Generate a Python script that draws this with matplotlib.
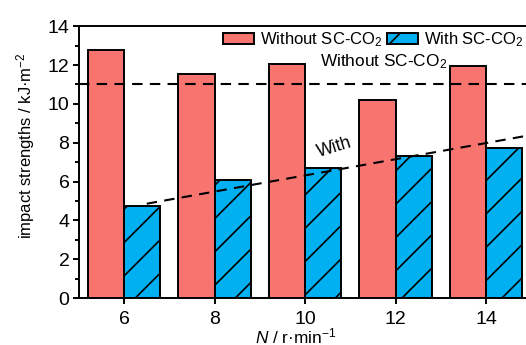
import matplotlib
matplotlib.use("Agg")
import matplotlib.pyplot as plt
import numpy as np

# impact strength vs. rotor speed
speeds = [6, 8, 10, 12, 14]
without_co2 = [12.78, 11.55, 12.03, 10.22, 11.94]
with_co2 = [4.75, 6.09, 6.71, 7.34, 7.75]

# guide lines
without_level = 11.0
with_trend_x = [6.5, 15.0]
with_trend_y = [4.86, 8.40]

plt.rcParams['font.family'] = ['Liberation Sans', 'DejaVu Sans']
plt.rcParams['mathtext.fontset'] = 'custom'
plt.rcParams['mathtext.rm'] = 'Liberation Sans'
plt.rcParams['mathtext.it'] = 'Liberation Sans:italic'
plt.rcParams['hatch.linewidth'] = 0.6

# drawn at 200 dpi so the hatch spacing comes out wide
fig = plt.figure(figsize=(2.63, 1.725), dpi=200)
ax = fig.add_axes([0.150, 0.136, 0.860, 0.788])

w = 0.8
x = np.array(speeds)
ax.bar(x - w / 2, without_co2, w, color='#F8756F', edgecolor='black', linewidth=0.7,
       label='Without SC-CO$_2$')
ax.bar(x + w / 2, with_co2, w, color='#00B0F0', edgecolor='black', linewidth=0.7,
       hatch='//', label='With SC-CO$_2$')

ax.axhline(without_level, color='black', lw=0.75, dashes=(5, 3.5))
ax.plot(with_trend_x, with_trend_y, color='black', lw=0.75, dashes=(5, 3.5))

ax.text(10.33, 12.15, 'Without SC-CO$_2$', fontsize=6.2, va='center', ha='left')
ax.text(10.65, 7.75, 'With', fontsize=6.4, rotation=17, va='center', ha='center')

ax.set_xlim(5, 15)
ax.set_ylim(0, 14)
ax.set_xticks(speeds)
ax.set_yticks(range(0, 15, 2))
ax.set_yticks(range(1, 14, 2), minor=True)
ax.tick_params(axis='both', which='major', direction='out', length=2.2, width=0.7,
               labelsize=7)
ax.tick_params(axis='x', which='major', pad=2.5)
ax.tick_params(axis='y', which='major', pad=1.2)
ax.tick_params(axis='y', which='minor', direction='out', length=1.3, width=0.7)
for s in ax.spines.values():
    s.set_linewidth(0.7)

ax.set_ylabel('impact strengths / kJ·m$^{-2}$', fontsize=6.0)
ax.yaxis.set_label_coords(-0.093, 0.56)
ax.set_xlabel('$N$ / r·min$^{-1}$', fontsize=6.2)
ax.xaxis.set_label_coords(0.48, -0.105)

ax.legend(loc='center left', ncol=2, frameon=False, fontsize=6.0,
          handlelength=1.85, handleheight=0.65, handletextpad=0.36, columnspacing=0.3,
          borderpad=0, borderaxespad=0, bbox_to_anchor=(0.318, 0.949))

fig.savefig('out.png', dpi=200)
